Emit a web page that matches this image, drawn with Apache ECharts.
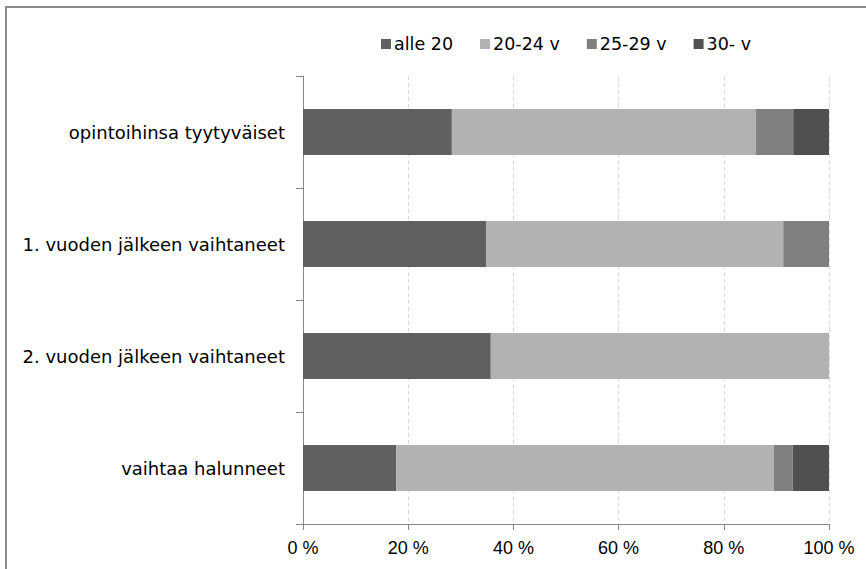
<!DOCTYPE html>
<html>
<head>
<meta charset="utf-8">
<script src="https://cdn.jsdelivr.net/npm/echarts@6/dist/echarts.min.js"></script>
<style>html,body{margin:0;padding:0;background:#fff}#c{width:866px;height:569px}</style>
</head>
<body>
<div id="c"></div>
<script>
var categories = ["opintoihinsa tyytyväiset", "1. vuoden jälkeen vaihtaneet", "2. vuoden jälkeen vaihtaneet", "vaihtaa halunneet"];
var seriesNames = ["alle 20", "20-24 v", "25-29 v", "30- v"];
var alle20 = [28.3, 34.8, 35.7, 17.7];
var v20_24 = [57.8, 56.5, 64.3, 71.8];
var v25_29 = [7.1, 8.7, 0, 3.6];
var v30 = [6.8, 0, 0, 6.9];
var xTicks = [0, 20, 40, 60, 80, 100];
var colors = ["#606060", "#b2b2b2", "#808080", "#505050"];

var values = [alle20, v20_24, v25_29, v30];
var font = "DejaVu Sans";
var tickFont = "Liberation Sans";
var chart = echarts.init(document.getElementById('c'), null, {renderer: 'svg'});
chart.setOption({
  animation: false,
  textStyle: {fontFamily: font},
  graphic: [{
    type: 'polyline', silent: true,
    shape: {points: [[6, 569], [6, 7], [866, 7]]},
    style: {stroke: '#8c8c8c', lineWidth: 2, fill: null}
  }],
  legend: {
    top: 30, left: 376,
    itemWidth: 10, itemHeight: 10, itemGap: 27,
    icon: 'rect',
    textStyle: {fontFamily: font, fontSize: 17.5, color: '#000', padding: [0, 0, 0, -2]},
    data: seriesNames
  },
  grid: {left: 303, right: 37, top: 76, bottom: 45, containLabel: false},
  xAxis: {
    type: 'value', min: xTicks[0], max: xTicks[xTicks.length - 1], interval: 20,
    axisLine: {show: true, lineStyle: {color: '#868686', width: 1}},
    axisTick: {show: true, length: 6, lineStyle: {color: '#868686'}},
    splitLine: {show: true, lineStyle: {color: '#d9d9d9', type: [4, 3]}},
    axisLabel: {fontFamily: tickFont, fontSize: 18, color: '#000', margin: 15,
      formatter: function (v) { return v + ' %'; }}
  },
  yAxis: {
    type: 'category', data: categories, inverse: true,
    axisLine: {show: true, lineStyle: {color: '#868686', width: 1}},
    axisTick: {show: true, length: 7, lineStyle: {color: '#868686'}},
    axisLabel: {fontFamily: font, fontSize: 18, color: '#000', margin: 18}
  },
  series: seriesNames.map(function (n, i) {
    return {
      name: n, type: 'bar', stack: 'total', data: values[i],
      barWidth: 46,
      itemStyle: {color: colors[i]}
    };
  })
});
</script>
</body>
</html>
